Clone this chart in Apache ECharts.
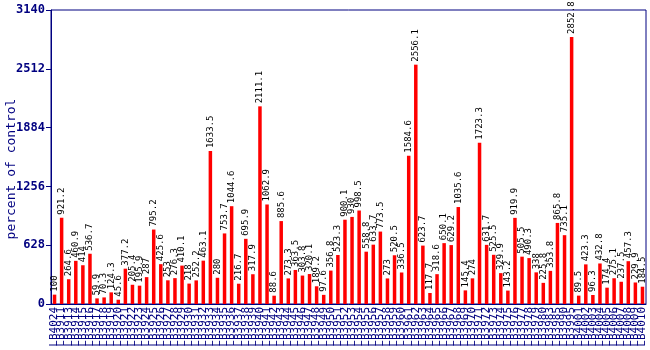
<!DOCTYPE html>
<html>
<head>
<meta charset="utf-8">
<script src="https://cdn.jsdelivr.net/npm/echarts@6/dist/echarts.min.js"></script>
<style>html,body{margin:0;padding:0;background:#fff}#c{width:650px;height:350px}</style>
</head>
<body>
<div id="c"></div>
<script>
const categories = ["LB4024","LB3911","LB3913","LB3914","LB3915","LB3916","LB3917","LB3918","LB3919",
"LB3920","LB3921","LB3922","LB3923","LB3924","LB3925","LB3926","LB3927","LB3928","LB3929",
"LB3930","LB3931","LB3932","LB3933","LB3934","LB3935","LB3936","LB3937","LB3938","LB3939",
"LB3940","LB3941","LB3942","LB3943","LB3944","LB3945","LB3946","LB3947","LB3948","LB3949",
"LB3950","LB3951","LB3952","LB3953","LB3954","LB3955","LB3956","LB3957","LB3958","LB3959",
"LB3960","LB3961","LB3962","LB3963","LB3964","LB3965","LB3966","LB3967","LB3968","LB3969",
"LB3970","LB3971","LB3972","LB3973","LB3974","LB3975","LB3976","LB3977","LB3978","LB3979",
"LB3980","LB3983","LB3985","LB3990","LB3995",
"LB4001","LB4002","LB4003","LB4004","LB4005","LB4006","LB4007","LB4008","LB4009","LB4010"];
const values = [100,921.2,264.6,460.9,414,536.7,59.9,70.3,124.3,45.6,377.2,205.4,195.9,287,795.2,425.6,253,276.3,410.1,218,252.2,463.1,1633.5,280,753.7,1044.6,216.7,695.9,317.9,2111.1,1062.9,88.6,885.6,273.3,363.5,303.8,320.1,189.2,97.6,356.8,523.3,900.1,930,998.5,558.8,633.7,773.5,273,520.5,336.5,1584.6,2556.1,623.7,117.7,318.6,650.1,629.2,1035.6,145.4,274,1723.3,631.7,525.5,329.9,143.2,919.9,505.5,490.3,338,225.8,353.8,865.8,735.1,2852.8,89.5,423.3,96.3,432.8,174.4,275.1,237.5,457.3,229.9,184.5];
const yTicks = [0,628,1256,1884,2512,3140];
const yName = "percent of control";

const navy = '#000080';
const mono = 'DejaVu Sans Mono';
const chart = echarts.init(document.getElementById('c'));
chart.setOption({
  animation: false,
  grid: {left: 51, right: 4, top: 10, bottom: 46, show: true, borderColor: navy, borderWidth: 1,
    containLabel: false, outerBoundsMode: 'none'},
  xAxis: {
    type: 'category', data: categories,
    axisLine: {lineStyle: {color: navy}},
    axisTick: {show: false},
    axisLabel: {interval: 0, rotate: 90, color: navy, fontFamily: mono, fontSize: 11, margin: 3}
  },
  yAxis: {
    type: 'value', min: yTicks[0], max: yTicks[yTicks.length-1], interval: 628,
    name: yName, nameLocation: 'middle', nameGap: 33, nameMoveOverlap: false,
    nameTextStyle: {color: navy, fontFamily: mono, fontSize: 13, padding: [0, 24, 0, 0]},
    axisLine: {show: true, lineStyle: {color: navy}},
    axisTick: {show: true, length: 5, lineStyle: {color: navy}},
    splitLine: {show: false},
    axisLabel: {color: navy, fontFamily: mono, fontSize: 12, fontWeight: 'bold', margin: 6,
      formatter: v => String(v)}
  },
  series: [{
    type: 'bar', data: values, barWidth: 3.5,
    itemStyle: {color: '#ff0000'},
    label: {show: true, position: 'top', rotate: 90, align: 'left', verticalAlign: 'middle',
      distance: 3, color: '#000', fontFamily: mono, fontSize: 9,
      formatter: p => String(p.value)}
  }]
});
</script>
</body>
</html>
